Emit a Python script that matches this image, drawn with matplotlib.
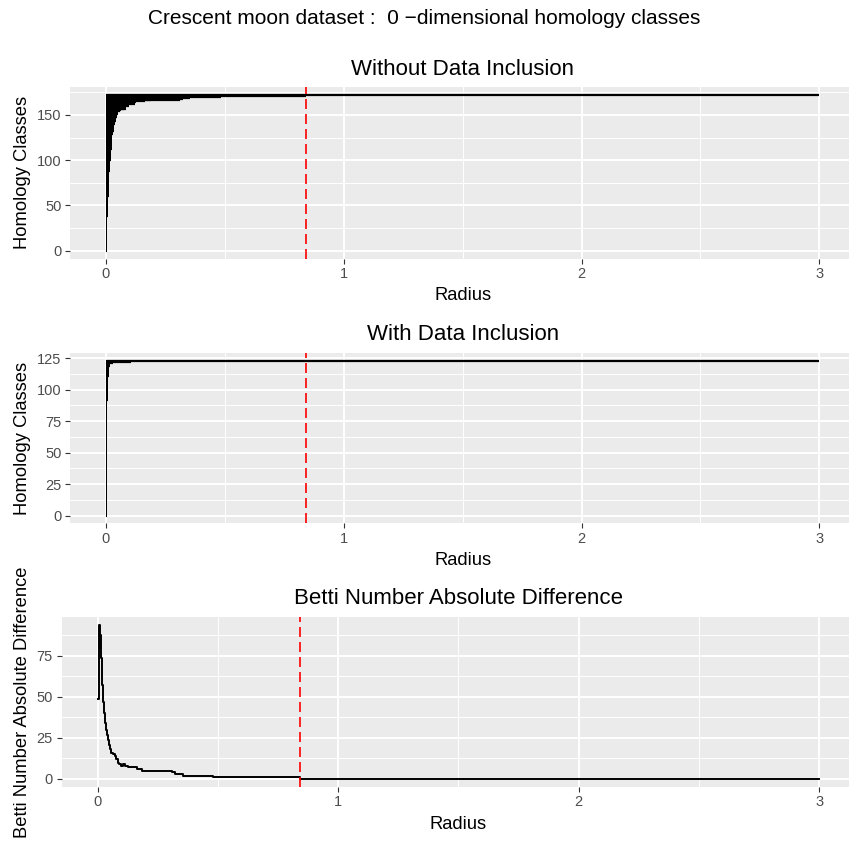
#!/usr/bin/env python3
"""
Crescent moon dataset: 0-dimensional homology barcodes with and without
data inclusion, plus the absolute difference of the Betti numbers.
"""

import numpy as np
import matplotlib.pyplot as plt

plt.rcParams['font.family'] = ['Liberation Sans', 'DejaVu Sans']
plt.rcParams['axes.unicode_minus'] = True

# death radius of each group of 0-dim classes (3.0 = infinite class, cut at max radius)
without_death = [0.005, 0.006, 0.007, 0.009, 0.011, 0.014, 0.017, 0.020, 0.024, 0.027,
                 0.031, 0.035, 0.040, 0.044, 0.048, 0.051, 0.058, 0.065, 0.076, 0.086,
                 0.096, 0.12, 0.128, 0.165, 0.19, 0.31, 0.325, 0.355, 0.485, 0.843, 3.0]
without_count = [30, 8, 9, 13, 15, 13, 12, 12, 14, 3,
                 3, 8, 3, 5, 3, 3, 1, 1, 1, 3,
                 2, 2, 1, 1, 1, 1, 1, 1, 1, 1, 1]

with_death = [0.003, 0.005, 0.008, 0.012, 0.018, 0.03, 0.104, 3.0]
with_count = [63, 29, 19, 8, 2, 1, 1, 1]

# |betti_without - betti_with| as a step function of the radius
diff_radius = [0.003, 0.004, 0.006, 0.008, 0.010, 0.012, 0.014, 0.016, 0.018, 0.020,
               0.022, 0.024, 0.027, 0.030, 0.034, 0.038, 0.042, 0.046, 0.050, 0.055,
               0.062, 0.070, 0.078, 0.084, 0.090, 0.098, 0.106, 0.114, 0.125, 0.165,
               0.185, 0.310, 0.320, 0.355, 0.480, 0.843, 3.0]
diff_value = [49, 81, 94, 80, 88, 80, 74, 68, 62, 57,
              52, 47, 40, 34, 30, 27, 24, 21, 18, 16,
              15, 14, 12, 10, 9, 8, 9, 8, 7, 6,
              5, 4, 3, 2, 1, 0, 0]

threshold_radius = 0.843

BG = '#EBEBEB'
FIG_W, FIG_H = 849, 844


def gg_axes(fig, left, top, right, bottom):
    """Axes placed by pixel edges, styled like ggplot2 theme_grey"""
    ax = fig.add_axes([left / FIG_W, 1 - bottom / FIG_H,
                       (right - left) / FIG_W, (bottom - top) / FIG_H])
    ax.set_facecolor(BG)
    for spine in ax.spines.values():
        spine.set_visible(False)
    ax.grid(True, which='major', color='white', linewidth=1.4)
    ax.grid(True, which='minor', color='white', linewidth=0.7)
    ax.set_axisbelow(True)
    ax.tick_params(which='major', direction='out', length=3.3, width=0.8,
                   color='#333333', labelcolor='#4D4D4D', labelsize=10.5, pad=3)
    ax.tick_params(which='minor', length=0)
    ax.set_xlim(-0.15, 3.15)
    ax.set_xticks([0, 1, 2, 3])
    ax.set_xticks([0.5, 1.5, 2.5], minor=True)
    ax.set_xlabel('Radius', fontsize=13.2, labelpad=4.5)
    return ax


def barcode(ax, deaths, counts, title, yticks, yminor):
    ends = np.repeat(deaths, counts)
    ys = np.arange(len(ends))
    ax.hlines(ys, 0, ends, colors='black', linewidth=1.6)
    ax.axvline(threshold_radius, color='#FF0000', linestyle=(0, (6, 3)), linewidth=1.2)
    top = ys[-1]
    ax.set_ylim(-0.05 * top, 1.05 * top)
    ax.set_yticks(yticks)
    ax.set_yticks(yminor, minor=True)
    ax.set_ylabel('Homology Classes', fontsize=13.2, labelpad=4)
    ax.set_title(title, fontsize=16, pad=9)


def main():
    fig = plt.figure(figsize=(FIG_W / 100, FIG_H / 100), dpi=100)

    fig.text(0.5, 1 - 24 / FIG_H, 'Crescent moon dataset :  0 \u2212dimensional homology classes',
             ha='center', va='baseline', fontsize=15)

    ax1 = gg_axes(fig, 70.3, 87.2, 855, 258.5)
    barcode(ax1, without_death, without_count, 'Without Data Inclusion',
            [0, 50, 100, 150], [25, 75, 125, 175])

    ax2 = gg_axes(fig, 70.3, 353, 855, 523.4)
    barcode(ax2, with_death, with_count, 'With Data Inclusion',
            [0, 25, 50, 75, 100, 125], [12.5, 37.5, 62.5, 87.5, 112.5])

    ax3 = gg_axes(fig, 61.6, 617, 855.4, 786.7)
    ax3.step(diff_radius, diff_value, where='post', color='black', linewidth=1.4)
    ax3.axvline(threshold_radius, color='#FF0000', linestyle=(0, (6, 3)), linewidth=1.2)
    vmax = max(diff_value)
    ax3.set_ylim(-0.05 * vmax, 1.05 * vmax)
    ax3.set_yticks([0, 25, 50, 75])
    ax3.set_yticks([12.5, 37.5, 62.5, 87.5], minor=True)
    ax3.set_ylabel('Betti Number Absolute Difference', fontsize=13.2, labelpad=4)
    ax3.set_title('Betti Number Absolute Difference', fontsize=16, pad=9)

    fig.savefig('out.png', dpi=100, facecolor='white')
    plt.close(fig)


if __name__ == "__main__":
    main()
